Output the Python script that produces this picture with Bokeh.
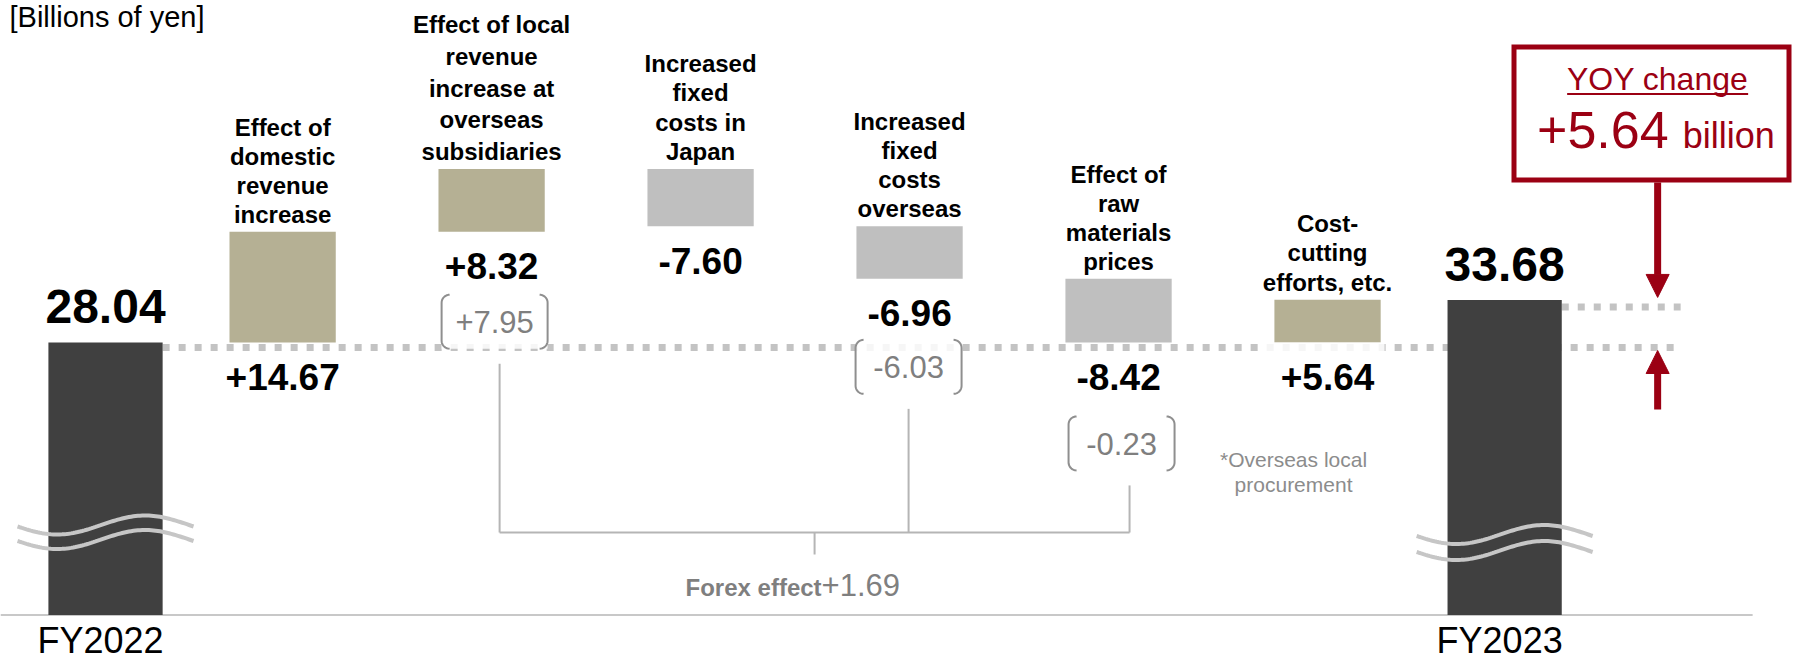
import numpy as np
from bokeh.plotting import figure
from bokeh.models import Range1d, Arrow, NormalHead
from bokeh.core.properties import value
from bokeh.embed import file_html
from bokeh.resources import INLINE

# ---------------------------------------------------------------
# Operating income bridge, FY2022 -> FY2023 (billions of yen)
# ---------------------------------------------------------------
period_labels = ["FY2022", "FY2023"]
period_totals = [28.04, 33.68]

factor_labels = [
    ["Effect of", "domestic", "revenue", "increase"],
    ["Effect of local", "revenue", "increase at", "overseas", "subsidiaries"],
    ["Increased", "fixed", "costs in", "Japan"],
    ["Increased", "fixed", "costs", "overseas"],
    ["Effect of", "raw", "materials", "prices"],
    ["Cost-", "cutting", "efforts, etc."],
]
factor_deltas = [14.67, 8.32, -7.60, -6.96, -8.42, 5.64]

# forex portion contained in some of the factors (index into factor_labels)
forex_factor_index = [1, 3, 4]
forex_amounts = [7.95, -6.03, -0.23]

unit_label = "[Billions of yen]"
forex_title = "Forex effect"
footnote_lines = ["*Overseas local", "procurement"]
yoy_title = "YOY change"
yoy_unit = "billion"

# ---------------------------------------------------------------
# canvas / scales
# ---------------------------------------------------------------
W, H = 1793, 660
X_START, X_END = -0.593, 9.531
Y_START, Y_END = -14.08, 73.34
PXX = W / (X_END - X_START)
PXY = H / (Y_END - Y_START)


def xv(px):
    return X_START + px / PXX


def yv(py):
    return Y_END - py / PXY


def dx(px):
    return np.asarray(px) / PXX


def dy(px):
    return np.asarray(px) / PXY


FONT = value("Liberation Sans")
DARK = "#404040"
KHAKI = "#b5b094"
GREY_BAR = "#bfbfbf"
DOTS = "#c3c3c3"
BASE = "#c8c8c8"
RED = "#9b0013"
NOTE = "#8c8c8c"
BRACKET = "#8f8f8f"
FX_LINE = "#b5b5b5"
FX_TEXT = "#7f7f7f"
WAVE = "#c6c6c6"

# the svg text anchor sits about 0.35em above the alphabetic baseline;
# shift every text up by that much so y means "baseline"
BASELINE_FIX = 0.35

# slot positions: wider spacing between the factor bars
n = len(factor_deltas)
STEP_END, STEP_MID = 1.0, 1.18
factor_x = STEP_END + STEP_MID * np.arange(n)
period_x = np.array([0.0, factor_x[-1] + STEP_END])

PERIOD_W, FACTOR_W = 0.645, 0.6
axis_floor = yv(614.5)

# waterfall geometry
deltas = np.array(factor_deltas)
run_start = period_totals[0] + np.concatenate([[0.0], np.cumsum(deltas)[:-1]])
run_end = run_start + deltas
bar_bottom = np.minimum(run_start, run_end)
bar_top = np.maximum(run_start, run_end)
bar_color = [KHAKI if d > 0 else GREY_BAR for d in deltas]

p = figure(width=W, height=H,
           x_range=Range1d(X_START, X_END), y_range=Range1d(Y_START, Y_END),
           x_axis_type=None, y_axis_type=None,
           toolbar_location=None, output_backend="svg",
           min_border=0, outline_line_color=None,
           background_fill_color="white", border_fill_color="white")


def draw_text(x, y, text, size, offset=0.0, bold=False, align="center", color="black"):
    p.text(x=list(x), y=list(y), text=list(text), text_font=FONT,
           text_font_style="bold" if bold else "normal",
           text_font_size=f"{size}px", text_align=align,
           text_baseline="alphabetic", text_color=color,
           y_offset=offset - BASELINE_FIX * size)


# baseline of the (broken) axis
p.segment(x0=[X_START], y0=[axis_floor], x1=[period_x[1] + dx(248)], y1=[axis_floor],
          line_color=BASE, line_width=2)

# dotted reference lines at both period levels
arrow_x = period_x[1] + dx(153)
dot_end = period_x[1] + dx(176)
lo_level = period_totals[0] - dy(5)
hi_level = period_totals[1] - dy(7)
p.segment(x0=[period_x[0] + PERIOD_W / 2, period_x[1] + PERIOD_W / 2],
          y0=[lo_level, hi_level],
          x1=[dot_end, dot_end], y1=[lo_level, hi_level],
          line_color=DOTS, line_width=7, line_dash="7 9", line_cap="butt")

# period bars (axis broken below)
p.vbar(x=period_x, width=PERIOD_W, bottom=axis_floor, top=period_totals,
       fill_color=DARK, line_color=None)

# factor bars
p.vbar(x=factor_x, width=FACTOR_W, bottom=bar_bottom, top=bar_top,
       fill_color=bar_color, line_color=None)

# axis-break waves over the period bars
t = np.linspace(-1, 1, 80)
wave_xs, wave_ys = [], []
for xc, c_px, sep in [(period_x[0], 524.5, 14.5), (period_x[1], 534.0, 16.0)]:
    for off in (0.0, sep):
        wave_xs.append(xc + t * dx(88))
        wave_ys.append(yv(c_px + off) + dy(9.5) * np.sin(np.pi * (t + 0.05)))
p.multi_line(xs=wave_xs, ys=wave_ys, line_color=WAVE, line_width=4)

# period totals and names
draw_text(period_x, period_totals, [f"{v:.2f}" for v in period_totals], 48,
          offset=-19, bold=True)
draw_text(period_x - dx(5), [yv(653)] * 2, period_labels, 36)

# veil over dotted line under the cost-cutting value
p.quad(left=[factor_x[5] - dx(66)], right=[factor_x[5] + dx(57)],
       top=[bar_bottom[5]], bottom=[bar_bottom[5] - dy(55)],
       fill_color="white", fill_alpha=0.85, line_color=None)

# factor values under each bar
draw_text(factor_x, bar_bottom, [f"{d:+.2f}" for d in deltas], 37, offset=47.5, bold=True)

# factor names, one row per line
LABEL_GAP = 9
LABEL_PITCH = [29.0, 31.7, 29.3, 29.3, 29.0, 29.5]
lab_x, lab_y, lab_t = [], [], []
for i, lines in enumerate(factor_labels):
    k = len(lines)
    for j, line in enumerate(lines):
        lab_x.append(factor_x[i])
        lab_y.append(bar_top[i] + dy(LABEL_GAP + (k - 1 - j) * LABEL_PITCH[i]))
        lab_t.append(line)
draw_text(lab_x, lab_y, lab_t, 24, bold=True)

# forex brackets under the affected factors
BOX_DROP = [63, 61, 74]
BOX_SHIFT = [3, -1, 3]
STEM_SHIFT = [8, -1, 11]
BOX_H, BOX_HW, BR_R = 54, 53, 8
fx_bar_x = factor_x[forex_factor_index]
fx_cx = fx_bar_x + dx(BOX_SHIFT)
fx_stem = fx_bar_x + dx(STEM_SHIFT)
fx_top = np.array([bar_bottom[i] for i in forex_factor_index]) - dy(BOX_DROP)
fx_bot = fx_top - dy(BOX_H)

p.quad(left=fx_cx - dx(BOX_HW), right=fx_cx + dx(BOX_HW), top=fx_top, bottom=fx_bot,
       fill_color="white", fill_alpha=0.85, line_color=None)

phi_top = np.linspace(-np.pi / 2, -np.pi, 10)
phi_bot = np.linspace(np.pi, np.pi / 2, 10)
br_xs, br_ys = [], []
for cx, top in zip(fx_cx, fx_top):
    for side in (-1, 1):
        px = np.concatenate([BR_R + BR_R * np.cos(phi_top), BR_R + BR_R * np.cos(phi_bot)])
        py = np.concatenate([BR_R + BR_R * np.sin(phi_top), BOX_H - BR_R + BR_R * np.sin(phi_bot)])
        br_xs.append(cx + side * (dx(BOX_HW) - dx(px)))
        br_ys.append(top - dy(py))
p.multi_line(xs=br_xs, ys=br_ys, line_color=BRACKET, line_width=2)

draw_text(fx_cx, fx_top - dy(38), [f"{v:+.2f}" for v in forex_amounts], 31, color=FX_TEXT)

# forex connector tree
fx_join = yv(532)
p.segment(x0=fx_stem, y0=fx_bot - dy(15), x1=fx_stem, y1=[fx_join] * len(fx_stem),
          line_color=FX_LINE, line_width=2)
fx_mid = (fx_stem.min() + fx_stem.max()) / 2
p.segment(x0=[fx_stem.min(), fx_mid], y0=[fx_join, fx_join],
          x1=[fx_stem.max(), fx_mid], y1=[fx_join, yv(554)],
          line_color=FX_LINE, line_width=2)
draw_text([fx_mid + dx(7)], [yv(595)], [forex_title], 24, bold=True, align="right",
          color=FX_TEXT)
draw_text([fx_mid + dx(7)], [yv(595)], [f"{sum(forex_amounts):+.2f}"], 31, align="left",
          color=FX_TEXT)

# footnote
draw_text([factor_x[5] - dx(34)] * 2, [yv(466), yv(491)], footnote_lines, 21, color=NOTE)

# unit label
draw_text([xv(9)], [yv(27)], [unit_label], 29, align="left")

# year-over-year callout
yoy = period_totals[1] - period_totals[0]
p.quad(left=[xv(1513.5)], right=[xv(1788.5)], top=[yv(46.5)], bottom=[yv(179.5)],
       fill_color=None, line_color=RED, line_width=5, line_join="miter")
draw_text([arrow_x], [yv(90)], [yoy_title], 32, color=RED)
p.segment(x0=[arrow_x - dx(90.5)], y0=[yv(93.5)], x1=[arrow_x + dx(90.5)], y1=[yv(93.5)],
          line_color=RED, line_width=2)
draw_text([arrow_x + dx(11)], [yv(148)], [f"{yoy:+.2f}"], 52, align="right", color=RED)
draw_text([arrow_x + dx(25)], [yv(148)], [yoy_unit], 36, align="left", color=RED)

p.add_layout(Arrow(end=NormalHead(size=23, fill_color=RED, line_color=RED, line_width=1),
                   x_start=arrow_x, y_start=yv(182), x_end=arrow_x,
                   y_end=period_totals[1] + dy(2.5),
                   line_color=RED, line_width=7))
p.add_layout(Arrow(end=NormalHead(size=23, fill_color=RED, line_color=RED, line_width=1),
                   x_start=arrow_x, y_start=yv(409), x_end=arrow_x,
                   y_end=period_totals[0] - dy(8),
                   line_color=RED, line_width=7))

html = file_html(p, INLINE, title="Operating income bridge")
with open("out.html", "w") as f:
    f.write(html)
